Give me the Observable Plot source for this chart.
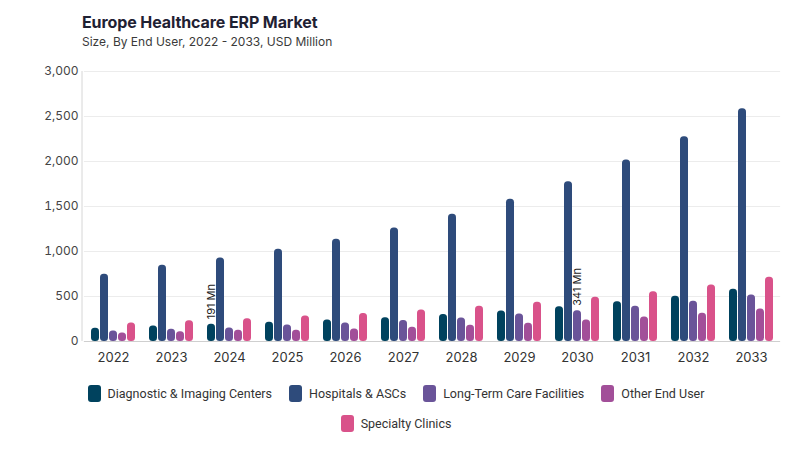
<!DOCTYPE html>
<html>
<head>
<meta charset="utf-8">
<script src="https://cdn.jsdelivr.net/npm/d3@7"></script>
<script src="https://cdn.jsdelivr.net/npm/@observablehq/plot@0.6"></script>
<style>
  html, body { margin: 0; padding: 0; background: #fff; }
  body { width: 800px; height: 450px; position: relative; overflow: hidden; font-family: Inter, "Noto Sans", sans-serif; }
  #title { position: absolute; left: 82px; top: 12px; font-size: 16px; font-weight: 700; color: #1f2133; letter-spacing: -0.1px; }
  #subtitle { position: absolute; left: 82px; top: 34px; font-size: 12px; color: #3a3a3a; }
  #chart { position: absolute; left: 0; top: 58px; }
  #ylabel { position: absolute; left: 20px; top: 206px; transform: translate(-50%, -50%) rotate(-90deg); font-size: 12.5px; color: #333; white-space: nowrap; }
  #legend { position: absolute; left: 61px; top: 383px; width: 670px; display: flex; flex-wrap: wrap; justify-content: center; row-gap: 10px; column-gap: 17px; font-family: Roboto, sans-serif; font-size: 12.5px; color: #333; }
  .item { display: flex; align-items: center; height: 20px; }
  .sw { width: 13px; height: 17px; border-radius: 3px; margin-right: 7px; }
</style>
</head>
<body>
<div id="title">Europe Healthcare ERP Market</div>
<div id="subtitle">Size, By End User, 2022 - 2033, USD Million</div>
<div id="ylabel">USD Million</div>
<div id="chart"></div>
<div id="legend"></div>
<script>
const years = ["2022","2023","2024","2025","2026","2027","2028","2029","2030","2031","2032","2033"];
const seriesNames = ["Diagnostic & Imaging Centers", "Hospitals & ASCs", "Long-Term Care Facilities", "Other End User", "Specialty Clinics"];
const colors = ["#00425e", "#2e4b7b", "#6a5499", "#a24f99", "#d9528a"];
const diagnostic = [146, 172, 191, 213, 239, 264, 301, 339, 386, 443, 502, 580];
const hospitals  = [746, 847, 928, 1025, 1136, 1262, 1414, 1580, 1776, 2017, 2276, 2587];
const longTerm   = [117, 136, 150, 183, 206, 232, 261, 305, 341, 391, 447, 517];
const otherUser  = [94, 109, 124, 124, 139, 158, 180, 203, 239, 273, 313, 362];
const specialty  = [205, 231, 254, 283, 312, 350, 391, 436, 491, 554, 628, 713];
const yTicks = [0, 500, 1000, 1500, 2000, 2500, 3000];
const annotYears = ["2024", "2030"];
const annotSeries = ["Diagnostic & Imaging Centers", "Long-Term Care Facilities"];
const annotValues = [191, 341];

const valuesBySeries = [diagnostic, hospitals, longTerm, otherUser, specialty];
const data = [];
years.forEach((yr, i) => {
  seriesNames.forEach((s, j) => data.push({year: yr, series: s, value: valuesBySeries[j][i]}));
});
const annots = annotYears.map((yr, i) => ({year: yr, series: annotSeries[i], value: annotValues[i], label: annotValues[i] + " Mn"}));

const W = 800, ML = 82, MR = 18;
const padIn = 0.21, padOut = padIn / 2;
const step = (W - ML - MR) / (years.length - padIn + 2 * padOut);
const ext = step * padIn / 2;
const fmt = d3.format(",.0f");

const chart = Plot.plot({
  width: W,
  height: 310,
  marginTop: 13,
  marginBottom: 27,
  marginLeft: ML,
  marginRight: MR,
  style: {fontFamily: "Inter, 'Noto Sans', sans-serif", fontSize: "12px", color: "#444", background: "#fff"},
  fx: {domain: years, paddingInner: padIn, paddingOuter: padOut, label: null, axis: "bottom", tickSize: 0, tickPadding: 11},
  x: {domain: seriesNames, axis: null, paddingInner: 0.08, paddingOuter: 0},
  y: {domain: [0, 3000], ticks: yTicks, tickFormat: d => fmt(d), tickSize: 0, tickPadding: 12, label: null},
  color: {domain: seriesNames, range: colors},
  marks: [
    Plot.ruleY(yTicks.slice(1), {stroke: "#ececec", strokeWidth: 1, insetLeft: -ext, insetRight: -ext}),
    Plot.barY(data, {fx: "year", x: "series", y: "value", fill: "series", rx: 3.5}),
    Plot.ruleY([0], {stroke: "#cfcfcf", strokeWidth: 1.2, insetLeft: -ext, insetRight: -ext}),
    Plot.text(annots, {fx: "year", x: "series", y: "value", text: "label", rotate: -90, textAnchor: "start", dy: -5, fill: "#222", fontSize: 11})
  ]
});
d3.select(chart).selectAll("g[aria-label='fx-axis tick label'] text").style("font-size", "13px").style("fill", "#333");
const ys = chart.scale("y");
d3.select(chart).append("line")
  .attr("x1", ML).attr("x2", ML)
  .attr("y1", ys.apply(0)).attr("y2", ys.apply(3000))
  .attr("stroke", "#d6d6d6");
document.getElementById("chart").appendChild(chart);

const legend = document.getElementById("legend");
seriesNames.forEach((s, i) => {
  const it = document.createElement("div");
  it.className = "item";
  it.innerHTML = `<span class="sw" style="background:${colors[i]}"></span><span>${s.replace("&", "&amp;")}</span>`;
  legend.appendChild(it);
});
</script>
</body>
</html>
